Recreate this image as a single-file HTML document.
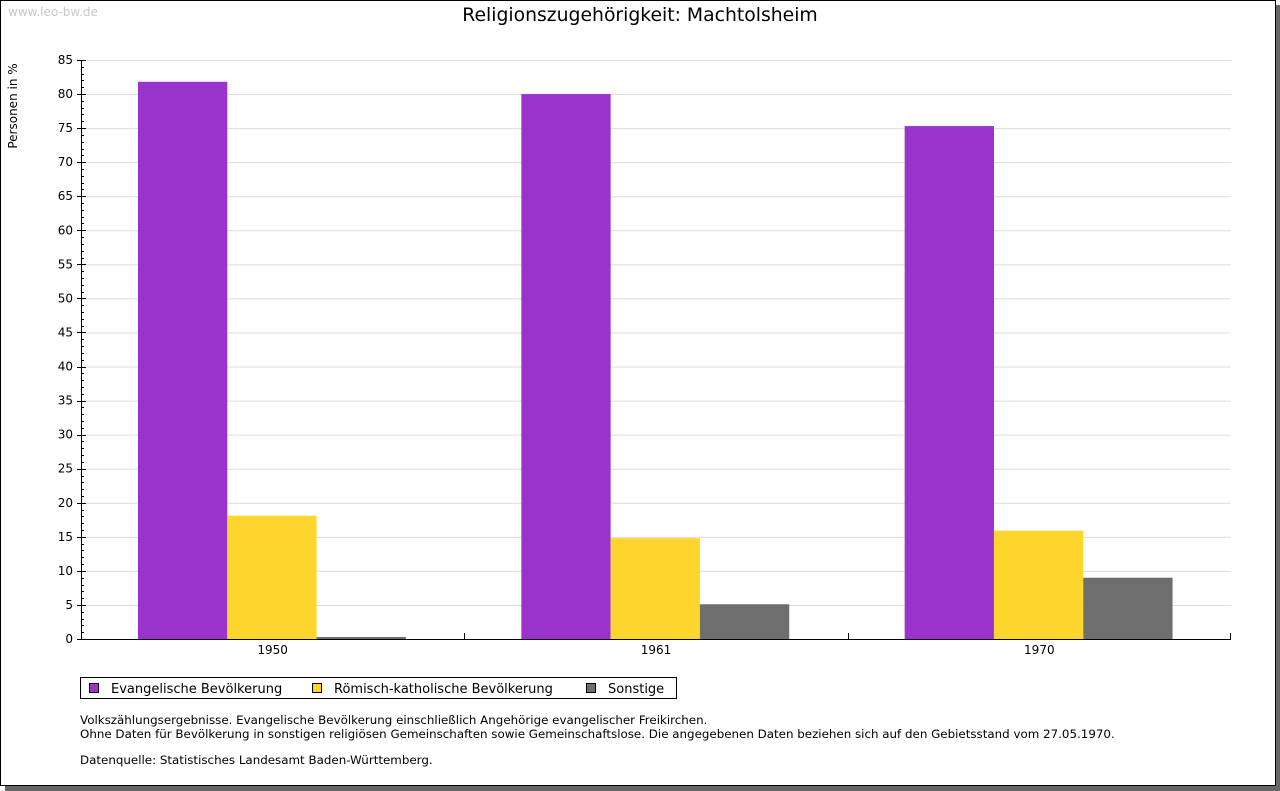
<!DOCTYPE html>
<html><head><meta charset="utf-8"><style>
html,body{margin:0;padding:0;background:#fff;}
body{width:1280px;height:791px;position:relative;overflow:hidden;font-family:"DejaVu Sans","Liberation Sans",sans-serif;}
#shadow{position:absolute;left:5px;top:5px;width:1275px;height:786px;background:#666;}
#frame{position:absolute;left:0;top:0;width:1274px;height:784px;border:1px solid #000;background:#fff;}
svg text{font-family:"DejaVu Sans","Liberation Sans",sans-serif;}
</style></head><body>
<div id="shadow"></div>
<div id="frame"></div>
<svg id="chart" width="1280" height="791" style="position:absolute;left:0;top:0">
<text x="8" y="16" font-size="12" fill="#c8c8c8">www.leo-bw.de</text>
<text x="640" y="21" font-size="18.8" text-anchor="middle" fill="#000">Religionszugehörigkeit: Machtolsheim</text>
<text transform="translate(17,106) rotate(-90)" font-size="12" text-anchor="middle">Personen in %</text>
<g id="grid"></g><g id="bars"></g><g id="axes"></g>
<g>
<rect x="80.5" y="677.5" width="596" height="21" fill="#fff" stroke="#000"/>
<rect x="89.5" y="683.5" width="9" height="9" fill="#9933cc" stroke="#000"/>
<text x="111" y="693" font-size="13">Evangelische Bevölkerung</text>
<rect x="312.5" y="683.5" width="9" height="9" fill="#fdd52c" stroke="#000"/>
<text x="334" y="693" font-size="13">Römisch-katholische Bevölkerung</text>
<rect x="586.5" y="683.5" width="9" height="9" fill="#6e6e6e" stroke="#000"/>
<text x="608" y="693" font-size="13">Sonstige</text>
</g>
<g font-size="11.86">
<text x="80" y="724">Volkszählungsergebnisse. Evangelische Bevölkerung einschließlich Angehörige evangelischer Freikirchen.</text>
<text x="80" y="738">Ohne Daten für Bevölkerung in sonstigen religiösen Gemeinschaften sowie Gemeinschaftslose. Die angegebenen Daten beziehen sich auf den Gebietsstand vom 27.05.1970.</text>
<text x="80" y="764">Datenquelle: Statistisches Landesamt Baden-Württemberg.</text>
</g>
</svg>
<script>
const categories = ["1950", "1961", "1970"];
const evangelisch = [81.8, 80.0, 75.3];
const katholisch = [18.1, 14.8, 15.9];
const sonstige = [0.3, 5.1, 9.0];
const yTicks = [0,5,10,15,20,25,30,35,40,45,50,55,60,65,70,75,80,85];

const NS="http://www.w3.org/2000/svg";
const X0=81,X1=1231,Y0=639,Y1=60,YMAX=85;
const y=v=>Y0-(v/YMAX)*(Y0-Y1);
const groupW=(X1-X0)/categories.length;
function mk(tag,attrs,parent){const e=document.createElementNS(NS,tag);for(const k in attrs)e.setAttribute(k,attrs[k]);parent.appendChild(e);return e;}
const grid=document.getElementById('grid'),bars=document.getElementById('bars'),axes=document.getElementById('axes');
yTicks.forEach(t=>{
  if(t>0){const l=mk('line',{x1:X0,x2:X1,y1:y(t)+0.5,y2:y(t)+0.5,stroke:'#dcdcdc'},grid);
  
  }
  const tk=mk('line',{x1:X0-4,x2:X0+5,y1:Math.round(y(t))+0.5,y2:Math.round(y(t))+0.5,stroke:'#000'},axes);
  
  
  const tx=mk('text',{x:X0-8,y:y(t)+4,'font-size':12,'text-anchor':'end'},axes);
  tx.textContent=t;
  
  
});
for(let v=0;v<=YMAX;v++){if(v%5)mk('line',{x1:X0,x2:X0+3,y1:Math.round(y(v))+0.5,y2:Math.round(y(v))+0.5,stroke:'#000'},axes);}
const series=[["evangelisch",evangelisch,"#9933cc"],["katholisch",katholisch,"#fdd52c"],["sonstige",sonstige,"#6e6e6e"]];
const barW=89.3, off=57;
categories.forEach((c,i)=>{
  const gx=X0+i*groupW;
  series.forEach((s,j)=>{
    const v=s[1][i];
    const r=mk('rect',{x:gx+off+j*barW,y:y(v),width:barW,height:Y0-y(v),fill:s[2]},bars);
    
    
  });
  const tx=mk('text',{x:gx+groupW/2,y:654,'font-size':12,'text-anchor':'middle'},axes);
  tx.textContent=c;
  
  
  if(i>0)mk('line',{x1:Math.round(gx)+0.5,x2:Math.round(gx)+0.5,y1:Y0,y2:Y0-6,stroke:'#000'},axes);
});
mk('line',{x1:X1-0.5,x2:X1-0.5,y1:Y0,y2:Y0-6,stroke:'#000'},axes);
const ya=mk('line',{x1:X0+0.5,x2:X0+0.5,y1:Y1,y2:Y0+1,stroke:'#000'},axes);


const xa=mk('line',{x1:X0,x2:X1,y1:Y0+0.5,y2:Y0+0.5,stroke:'#000'},axes);


</script>
</body></html>
